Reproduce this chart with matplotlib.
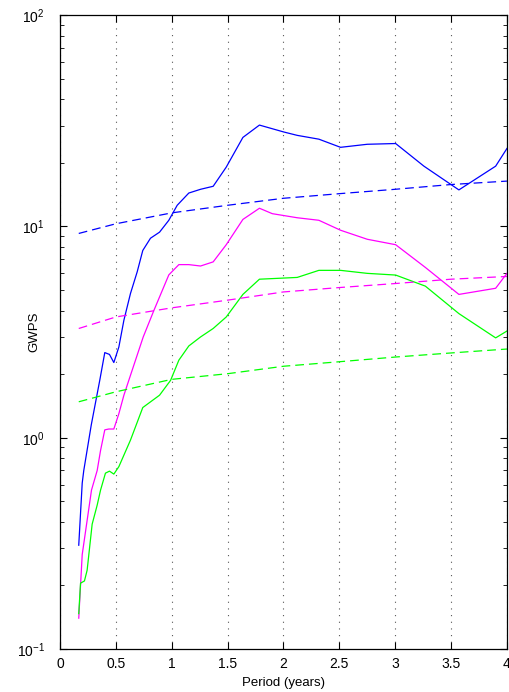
import numpy as np
import matplotlib
matplotlib.use('Agg')
import matplotlib.pyplot as plt
from matplotlib.ticker import FixedLocator, LogLocator, NullFormatter

plt.rcParams['font.family'] = ['Liberation Sans', 'DejaVu Sans']

# solid curves (global wavelet power spectrum)
blue_x = [0.168, 0.199, 0.213, 0.28, 0.356, 0.401, 0.443, 0.482, 0.527, 0.572, 0.631,
          0.691, 0.741, 0.81, 0.891, 0.974, 1.049, 1.153, 1.258, 1.371, 1.488, 1.637,
          1.785, 2.004, 2.123, 2.317, 2.511, 2.75, 3.004, 3.257, 3.57, 3.899, 4.0]
blue_y = [0.31, 0.61, 0.70, 1.15, 1.87, 2.53, 2.48, 2.27, 2.69, 3.6, 4.82,
          6.1, 7.7, 8.8, 9.4, 10.7, 12.6, 14.4, 15.0, 15.5, 19.1, 26.4,
          30.2, 28.0, 27.0, 25.9, 23.7, 24.5, 24.7, 19.3, 14.9, 19.3, 23.4]

mag_x = [0.168, 0.199, 0.282, 0.333, 0.363, 0.401, 0.437, 0.482, 0.527, 0.572, 0.616,
         0.745, 0.84, 0.974, 1.064, 1.153, 1.258, 1.371, 1.488, 1.637, 1.785, 1.90,
         2.123, 2.317, 2.511, 2.75, 3.004, 3.27, 3.57, 3.899, 4.0]
mag_y = [0.14, 0.28, 0.565, 0.70, 0.87, 1.09, 1.10, 1.10, 1.30, 1.59, 1.87,
         3.0, 4.0, 5.9, 6.6, 6.6, 6.5, 6.8, 8.2, 10.8, 12.2, 11.5,
         11.0, 10.7, 9.6, 8.7, 8.2, 6.4, 4.77, 5.1, 6.0]

grn_x = [0.168, 0.184, 0.219, 0.243, 0.288, 0.333, 0.363, 0.407, 0.443, 0.482, 0.527,
         0.631, 0.741, 0.891, 0.99, 1.064, 1.153, 1.258, 1.371, 1.488, 1.637, 1.785,
         2.123, 2.317, 2.511, 2.75, 3.004, 3.27, 3.57, 3.899, 4.0]
grn_y = [0.147, 0.205, 0.21, 0.236, 0.39, 0.48, 0.565, 0.68, 0.695, 0.673, 0.73,
         0.975, 1.39, 1.59, 1.87, 2.33, 2.72, 3.0, 3.29, 3.73, 4.77, 5.63,
         5.74, 6.2, 6.2, 6.0, 5.89, 5.22, 3.87, 2.97, 3.2]

# dashed curves (significance levels)
sig_x = [0.168, 0.5, 1.0, 1.5, 2.0, 2.5, 3.0, 3.5, 4.0]
sig_blue = [9.27, 10.3, 11.6, 12.6, 13.6, 14.3, 15.0, 15.8, 16.4]
sig_mag = [3.29, 3.73, 4.12, 4.48, 4.9, 5.14, 5.37, 5.63, 5.8]
sig_grn = [1.48, 1.65, 1.89, 2.01, 2.18, 2.29, 2.41, 2.52, 2.63]

xticks = [0, 0.5, 1, 1.5, 2, 2.5, 3, 3.5, 4]

fig = plt.figure(figsize=(5.1, 6.92), dpi=100)
ax = fig.add_axes([0.1176, 0.0621, 0.8764, 0.9159])

ax.plot(blue_x, blue_y, color='#0000ff', lw=0.9)
ax.plot(mag_x, mag_y, color='#ff00ff', lw=0.9)
ax.plot(grn_x, grn_y, color='#00ff00', lw=0.9)
ax.plot(sig_x, sig_blue, color='#0000ff', lw=0.9, ls=(0, (7, 4)))
ax.plot(sig_x, sig_mag, color='#ff00ff', lw=0.9, ls=(0, (7, 4)))
ax.plot(sig_x, sig_grn, color='#00ff00', lw=0.9, ls=(0, (7, 4)))

ax.set_yscale('log')
ax.set_xlim(0, 4)
ax.set_ylim(0.1, 100)
ax.xaxis.set_major_locator(FixedLocator(xticks))
ax.set_xticklabels(['0', '0.5', '1', '1.5', '2', '2.5', '3', '3.5', '4'])
ax.yaxis.set_major_locator(LogLocator(base=10))
ax.yaxis.set_minor_locator(LogLocator(base=10, subs=np.arange(2, 10)))
ax.yaxis.set_minor_formatter(NullFormatter())

ax.xaxis.grid(True, ls=(0, (1, 5)), color='#555555', lw=0.8)
ax.yaxis.grid(False)

ax.tick_params(which='both', direction='in', top=True, right=True, labelsize=10)
ax.tick_params(which='major', length=5, width=0.8)
ax.tick_params(which='minor', length=3, width=0.6)
ax.tick_params(axis='x', pad=6)
ax.tick_params(axis='y', pad=11)
for s in ax.spines.values():
    s.set_linewidth(0.9)

ax.set_xlabel('Period (years)', fontsize=9.5)
ax.set_ylabel('GWPS', fontsize=9.5)
ax.xaxis.set_label_coords(0.5, -0.044)
ax.yaxis.set_label_coords(-0.044, 0.5)

fig.savefig('out.png', dpi=100)
